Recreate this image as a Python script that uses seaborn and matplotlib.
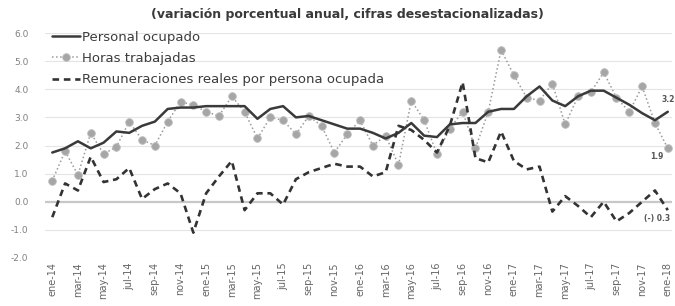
"""
Empleo y remuneraciones: variacion porcentual anual, ene-14 a ene-18
"""
import numpy as np
import pandas as pd
import matplotlib
matplotlib.use("Agg")
import matplotlib.pyplot as plt
import seaborn as sns

# meses (ene-14 ... ene-18)
meses_abr = ['ene', 'feb', 'mar', 'abr', 'may', 'jun', 'jul', 'ago', 'sep', 'oct', 'nov', 'dic']
meses = [m + '-' + str(a) for a in range(14, 18) for m in meses_abr] + ['ene-18']

personal = [1.75, 1.9, 2.15, 1.9, 2.1, 2.5, 2.45, 2.7, 2.85, 3.3, 3.35, 3.35,
            3.4, 3.4, 3.4, 3.4, 2.95, 3.3, 3.4, 3.0, 3.05, 2.9, 2.75, 2.6,
            2.6, 2.45, 2.25, 2.45, 2.8, 2.35, 2.3, 2.75, 2.8, 2.8, 3.2, 3.3,
            3.3, 3.75, 4.1, 3.6, 3.4, 3.75, 3.95, 3.95, 3.7, 3.45, 3.15, 2.9,
            3.2]
horas = [0.75, 1.8, 0.95, 2.45, 1.7, 1.95, 2.85, 2.2, 2.0, 2.85, 3.55, 3.45,
         3.2, 3.05, 3.75, 3.2, 2.25, 3.0, 2.9, 2.4, 3.05, 2.7, 1.75, 2.4,
         2.9, 2.0, 2.35, 1.3, 3.6, 2.9, 1.7, 2.6, 3.2, 1.9, 3.2, 5.4,
         4.5, 3.7, 3.6, 4.2, 2.75, 3.75, 3.9, 4.6, 3.7, 3.2, 4.1, 2.8,
         1.9]
remuneraciones = [-0.55, 0.65, 0.4, 1.6, 0.7, 0.8, 1.2, 0.1, 0.45, 0.65, 0.3, -1.1,
                  0.3, 0.9, 1.45, -0.3, 0.3, 0.3, -0.1, 0.8, 1.05, 1.2, 1.35, 1.25,
                  1.25, 0.9, 1.05, 2.7, 2.55, 2.2, 1.75, 2.7, 4.25, 1.55, 1.4, 2.5,
                  1.45, 1.15, 1.25, -0.35, 0.2, -0.15, -0.55, 0.0, -0.7, -0.4, 0.0, 0.4,
                  -0.3]

df = pd.DataFrame({'i': np.arange(len(meses)), 'mes': meses,
                   'personal': personal, 'horas': horas, 'remun': remuneraciones})

sns.set_style('white')
plt.rcParams['font.family'] = ['DejaVu Sans']

fig = plt.figure(figsize=(6.75, 3.06), dpi=100)
ax = fig.add_axes([0.067, 0.157, 0.928, 0.735])

ax.axhline(0, color='#c8c8c8', lw=1.6, zorder=0)
for v in [-2, -1, 1, 2, 3, 4, 5, 6]:
    ax.axhline(v, color='#e4e4e4', lw=0.8, zorder=0)

sns.lineplot(data=df, x='i', y='personal', ax=ax, color='#3a3a3a', lw=1.8,
             label='Personal ocupado', zorder=4)
sns.lineplot(data=df, x='i', y='horas', ax=ax, color='#9a9a9a', lw=1.1,
             linestyle=':', marker='o', markersize=5.5, markerfacecolor='#a6a6a6',
             markeredgecolor='#bdbdbd', markeredgewidth=0.6,
             label='Horas trabajadas', zorder=3)
sns.lineplot(data=df, x='i', y='remun', ax=ax, color='#333333', lw=1.9,
             dashes=False, label='Remuneraciones reales por persona ocupada', zorder=5)
ax.lines[-1].set_dashes((2.5, 1.8))

# etiquetas del ultimo dato
n = len(meses) - 1
ax.annotate('3.2', (n, personal[-1]), xytext=(0, 7), textcoords='offset points',
            ha='center', fontsize=5.5, fontweight='bold', color='#555555')
ax.annotate('1.9', (n, horas[-1]), xytext=(-8, -8), textcoords='offset points',
            ha='center', fontsize=5.5, fontweight='bold', color='#555555')
ax.annotate('(-) 0.3', (n, remuneraciones[-1]), xytext=(-8, -8), textcoords='offset points',
            ha='center', fontsize=5.5, fontweight='bold', color='#555555')

ax.set_xlim(-0.55, 48.3)
ax.set_ylim(-2, 6)
ax.set_yticks(range(-2, 7))
ax.set_yticklabels(['%.1f' % v for v in range(-2, 7)], fontsize=6.5, color='#808080')
ax.set_xticks(df['i'][::2])
ax.set_xticklabels(df['mes'][::2], rotation=90, fontsize=7, color='#666666')
ax.tick_params(axis='y', length=0, pad=12)
ax.tick_params(axis='x', length=0, pad=3)
ax.set_xlabel('')
ax.set_ylabel('')
sns.despine(ax=ax, left=True, bottom=True)

leg = ax.legend(loc='upper left', bbox_to_anchor=(-0.002, 1.045), frameon=False,
                fontsize=9.5, handlelength=2.1, labelspacing=0.62, handletextpad=0.2,
                borderaxespad=0.2)
for t in leg.get_texts():
    t.set_color('#3c3c3c')

fig.text(0.515, 0.953, '(variación porcentual anual, cifras desestacionalizadas)',
         ha='center', va='center', fontsize=9, fontweight='bold', color='#3a3a3a')

fig.savefig('out.png', dpi=100)
